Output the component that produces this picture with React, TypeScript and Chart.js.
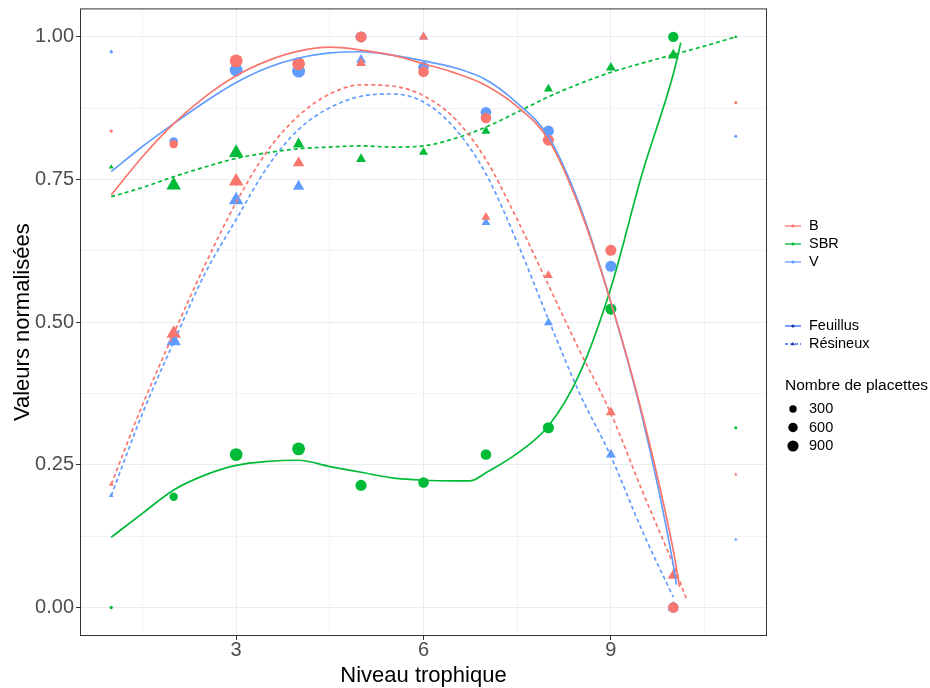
import React, { useEffect, useRef } from "react";
import { Chart, registerables } from "chart.js";
Chart.register(...registerables);

// ---------- DATA ----------
const niveaux = [1, 2, 3, 4, 5, 6, 7, 8, 9, 10, 11];

const placettesFeuillus = [10, 420, 1300, 1300, 900, 800, 800, 900, 900, 750, 5];
const placettesResineux = [40, 1200, 1200, 650, 450, 350, 330, 330, 450, 600, 5];

const bFeuillus = [0.835, 0.812, 0.958, 0.953, 1.0, 0.939, 0.858, 0.819, 0.626, 0.0, 0.885];
const bResineux = [0.216, 0.48, 0.747, 0.779, 0.954, 1.0, 0.684, 0.582, 0.342, 0.056, 0.233];
const sbrFeuillus = [0.0, 0.194, 0.268, 0.278, 0.214, 0.219, 0.268, 0.315, 0.523, 1.0, 0.315];
const sbrResineux = [0.772, 0.74, 0.797, 0.812, 0.786, 0.798, 0.835, 0.909, 0.946, 0.968, 1.0];
const vFeuillus = [0.974, 0.817, 0.942, 0.94, 1.0, 0.947, 0.868, 0.835, 0.598, 0.0, 0.826];
const vResineux = [0.196, 0.467, 0.714, 0.738, 0.96, 1.0, 0.675, 0.499, 0.268, 0.0, 0.119];

// smoothed curves
const lisseBFeuillusX = [1, 1.5, 2, 2.5, 3, 3.5, 4, 4.5, 5, 5.5, 6, 6.5, 7, 7.5, 8, 8.5, 9, 9.5, 10, 10.1];
const lisseBFeuillusY = [0.723, 0.79, 0.848, 0.895, 0.932, 0.958, 0.975, 0.982, 0.977, 0.968, 0.953, 0.937, 0.915, 0.878, 0.82, 0.7, 0.535, 0.34, 0.1, 0.036];
const lisseVFeuillusX = [1, 1.5, 2, 2.5, 3, 3.5, 4, 4.5, 5, 5.5, 6, 6.5, 7, 7.5, 8, 8.5, 9, 9.5, 10, 10.05];
const lisseVFeuillusY = [0.764, 0.808, 0.848, 0.886, 0.92, 0.946, 0.963, 0.972, 0.974, 0.968, 0.958, 0.946, 0.925, 0.884, 0.825, 0.705, 0.535, 0.335, 0.075, 0.04];
const lisseSbrFeuillusX = [1, 1.5, 2, 2.5, 3, 3.5, 4, 4.5, 5, 5.5, 6, 6.5, 6.75, 7, 7.5, 8, 8.5, 9, 9.5, 10, 10.12];
const lisseSbrFeuillusY = [0.123, 0.165, 0.206, 0.232, 0.249, 0.256, 0.258, 0.247, 0.237, 0.227, 0.223, 0.222, 0.222, 0.236, 0.27, 0.318, 0.41, 0.56, 0.76, 0.935, 0.99];

const lisseBResineuxX = [1, 1.5, 2, 2.5, 3, 3.5, 4, 4.5, 5, 5.5, 6, 6.5, 7, 7.5, 8, 8.5, 9, 9.5, 10, 10.22];
const lisseBResineuxY = [0.216, 0.355, 0.48, 0.6, 0.71, 0.8, 0.862, 0.9, 0.916, 0.914, 0.897, 0.857, 0.785, 0.68, 0.565, 0.45, 0.34, 0.205, 0.075, 0.012];
const lisseVResineuxX = [1, 1.5, 2, 2.5, 3, 3.5, 4, 4.5, 5, 5.5, 6, 6.5, 7, 7.5, 8, 8.5, 9, 9.5, 10];
const lisseVResineuxY = [0.196, 0.34, 0.465, 0.585, 0.68, 0.772, 0.838, 0.876, 0.896, 0.9, 0.886, 0.84, 0.76, 0.64, 0.505, 0.375, 0.265, 0.135, 0.018];
const lisseSbrResineuxX = [1, 1.5, 2, 2.5, 3, 3.5, 4, 4.5, 5, 5.5, 6, 6.5, 7, 7.5, 8, 8.5, 9, 9.5, 10, 10.5, 11];
const lisseSbrResineuxY = [0.72, 0.736, 0.755, 0.772, 0.787, 0.797, 0.804, 0.807, 0.809, 0.807, 0.809, 0.822, 0.842, 0.868, 0.895, 0.918, 0.938, 0.954, 0.969, 0.984, 1.0];

const ticksX = [1.5, 3, 4.5, 6, 7.5, 9, 10.5];
const ticksXMajeurs = [3, 6, 9];
const ticksY = [0, 0.125, 0.25, 0.375, 0.5, 0.625, 0.75, 0.875, 1.0];
const ticksYMajeurs = [0, 0.25, 0.5, 0.75, 1.0];

const especes = ["B", "SBR", "V"];
const couleurs = ["#F8766D", "#00BA38", "#619CFF"];
const peuplements = ["Feuillus", "Résineux"];
const tailleLegende = [300, 600, 900];

// ---------- HELPERS ----------
const FONT = "'Liberation Sans', Arial, Helvetica, sans-serif";
const rayon = (n: number) => 1.2 + 0.145 * Math.sqrt(n);
const rayonTri = (n: number) => 1.35 * rayon(n);
const pts = (xs: number[], ys: number[]) => xs.map((x, i) => ({ x, y: ys[i] }));
const near = (v: number, arr: number[]) => arr.some((a) => Math.abs(a - v) < 1e-6);

function pointSet(label: string, ys: number[], color: string, tri: boolean, order: number) {
  const counts = tri ? placettesResineux : placettesFeuillus;
  const r = counts.map((n) => (tri ? rayonTri(n) : rayon(n)));
  return {
    type: "scatter" as const,
    label,
    data: pts(niveaux, ys),
    backgroundColor: color,
    borderWidth: 0,
    pointStyle: tri ? "triangle" : "circle",
    pointRadius: r,
    pointHoverRadius: r,
    order,
  };
}

function lineSet(label: string, xs: number[], ys: number[], color: string, dashed: boolean, order: number) {
  return {
    type: "line" as const,
    label,
    data: pts(xs, ys),
    borderColor: color,
    borderWidth: 1.7,
    borderDash: dashed ? [4, 3] : [],
    pointRadius: 0,
    showLine: true,
    fill: false,
    cubicInterpolationMode: "monotone" as const,
    order,
  };
}

const panelPlugin = {
  id: "panelBorder",
  afterDatasetsDraw(chart: any) {
    const { ctx, chartArea: a } = chart;
    ctx.save();
    ctx.strokeStyle = "#333333";
    ctx.lineWidth = 1;
    ctx.strokeRect(a.left + 0.5, a.top + 0.5, a.right - a.left - 1, a.bottom - a.top - 1);
    ctx.restore();
  },
};

const legendPlugin = {
  id: "ggLegend",
  afterDraw(chart: any) {
    const ctx = chart.ctx as CanvasRenderingContext2D;
    ctx.save();
    const x0 = 785, x1 = 801, xc = 793, xt = 809;
    ctx.textBaseline = "middle";
    ctx.textAlign = "left";
    ctx.fillStyle = "#000";
    ctx.font = `14.5px ${FONT}`;
    const ys1 = [226, 244, 262];
    especes.forEach((e, i) => {
      const y = ys1[i];
      ctx.strokeStyle = couleurs[i];
      ctx.lineWidth = 1.3;
      ctx.setLineDash([]);
      ctx.beginPath();
      ctx.moveTo(x0, y);
      ctx.lineTo(x1, y);
      ctx.stroke();
      ctx.fillStyle = couleurs[i];
      ctx.beginPath();
      ctx.arc(xc, y, 1.6, 0, Math.PI * 2);
      ctx.fill();
      ctx.fillStyle = "#000";
      ctx.fillText(e, xt, y);
    });
    const ys2 = [326, 344];
    peuplements.forEach((p, i) => {
      const y = ys2[i];
      ctx.strokeStyle = "#3366FF";
      ctx.lineWidth = 1.3;
      ctx.setLineDash(i === 0 ? [] : [3, 2]);
      ctx.beginPath();
      ctx.moveTo(x0, y);
      ctx.lineTo(x1, y);
      ctx.stroke();
      ctx.setLineDash([]);
      ctx.fillStyle = "#1F3FA0";
      ctx.beginPath();
      if (i === 0) {
        ctx.arc(xc, y, 1.6, 0, Math.PI * 2);
      } else {
        ctx.moveTo(xc, y - 2.2);
        ctx.lineTo(xc + 2, y + 1.3);
        ctx.lineTo(xc - 2, y + 1.3);
        ctx.closePath();
      }
      ctx.fill();
      ctx.fillStyle = "#000";
      ctx.fillText(p, xt, y);
    });
    ctx.font = `15.5px ${FONT}`;
    ctx.fillText("Nombre de placettes", 785, 386);
    ctx.font = `14.5px ${FONT}`;
    const ys3 = [409, 427.5, 446];
    tailleLegende.forEach((n, i) => {
      const y = ys3[i];
      ctx.fillStyle = "#000";
      ctx.beginPath();
      ctx.arc(xc, y, rayon(n), 0, Math.PI * 2);
      ctx.fill();
      ctx.fillText(String(n), xt, y);
    });
    ctx.restore();
  },
};

export default function App() {
  const ref = useRef<HTMLCanvasElement>(null);
  useEffect(() => {
    document.body.style.margin = "0";
    Chart.defaults.font.family = FONT;
    const datasets: any[] = [
      lineSet("B Feuillus lisse", lisseBFeuillusX, lisseBFeuillusY, couleurs[0], false, 1),
      lineSet("SBR Feuillus lisse", lisseSbrFeuillusX, lisseSbrFeuillusY, couleurs[1], false, 2),
      lineSet("V Feuillus lisse", lisseVFeuillusX, lisseVFeuillusY, couleurs[2], false, 3),
      lineSet("B Résineux lisse", lisseBResineuxX, lisseBResineuxY, couleurs[0], true, 4),
      lineSet("SBR Résineux lisse", lisseSbrResineuxX, lisseSbrResineuxY, couleurs[1], true, 5),
      lineSet("V Résineux lisse", lisseVResineuxX, lisseVResineuxY, couleurs[2], true, 6),
      pointSet("B Feuillus", bFeuillus, couleurs[0], false, 10),
      pointSet("B Résineux", bResineux, couleurs[0], true, 11),
      pointSet("SBR Feuillus", sbrFeuillus, couleurs[1], false, 12),
      pointSet("SBR Résineux", sbrResineux, couleurs[1], true, 13),
      pointSet("V Feuillus", vFeuillus, couleurs[2], false, 14),
      pointSet("V Résineux", vResineux, couleurs[2], true, 15),
    ];
    const chart = new Chart(ref.current!, {
      type: "scatter",
      data: { datasets },
      options: {
        animation: false,
        responsive: false,
        devicePixelRatio: 1,
        events: [],
        layout: { padding: { left: 0, top: 7, right: 163, bottom: 0 } },
        plugins: { legend: { display: false }, tooltip: { enabled: false } },
        scales: {
          x: {
            type: "linear",
            min: 0.5,
            max: 11.5,
            afterBuildTicks: (s: any) => {
              s.ticks = ticksX.map((v) => ({ value: v }));
            },
            afterFit: (s: any) => {
              s.height = 52;
              s.paddingLeft = 0;
              s.paddingRight = 0;
              s.paddingTop = 0;
              s.paddingBottom = 0;
            },
            border: { display: false },
            grid: {
              color: (c: any) => (c.tick && near(c.tick.value, ticksXMajeurs) ? "#EBEBEB" : "#F3F3F3"),
              lineWidth: 1,
              drawTicks: true,
              tickLength: 4,
              tickColor: (c: any) => (c.tick && near(c.tick.value, ticksXMajeurs) ? "#333333" : "rgba(0,0,0,0)"),
            },
            ticks: {
              autoSkip: false,
              maxRotation: 0,
              padding: -2,
              color: "#4D4D4D",
              font: { size: 20, family: FONT },
              callback: (v: any) => (near(Number(v), ticksXMajeurs) ? String(v) : ""),
            },
            title: {
              display: true,
              text: "Niveau trophique",
              color: "#000",
              font: { size: 22, family: FONT },
              padding: { top: 0, bottom: -1 },
            },
          },
          y: {
            type: "linear",
            min: -0.05,
            max: 1.05,
            afterBuildTicks: (s: any) => {
              s.ticks = ticksY.map((v) => ({ value: v }));
            },
            afterFit: (s: any) => {
              s.width = 80;
              s.paddingLeft = 0;
              s.paddingRight = 0;
              s.paddingTop = 0;
              s.paddingBottom = 0;
            },
            border: { display: false },
            grid: {
              color: (c: any) => (c.tick && near(c.tick.value, ticksYMajeurs) ? "#EBEBEB" : "#F3F3F3"),
              lineWidth: 1,
              drawTicks: true,
              tickLength: 4,
              tickColor: (c: any) => (c.tick && near(c.tick.value, ticksYMajeurs) ? "#333333" : "rgba(0,0,0,0)"),
            },
            ticks: {
              autoSkip: false,
              padding: 2,
              color: "#4D4D4D",
              font: { size: 20, family: FONT },
              callback: (v: any) => (near(Number(v), ticksYMajeurs) ? Number(v).toFixed(2) : ""),
            },
            title: {
              display: true,
              text: "Valeurs normalisées",
              color: "#000",
              font: { size: 22, family: FONT },
              padding: { top: 10, bottom: 0 },
            },
          },
        },
      },
      plugins: [panelPlugin, legendPlugin],
    } as any);
    return () => chart.destroy();
  }, []);
  return (
    <div style={{ width: 930, height: 688 }}>
      <canvas ref={ref} width={930} height={688} style={{ display: "block" }} />
    </div>
  );
}
